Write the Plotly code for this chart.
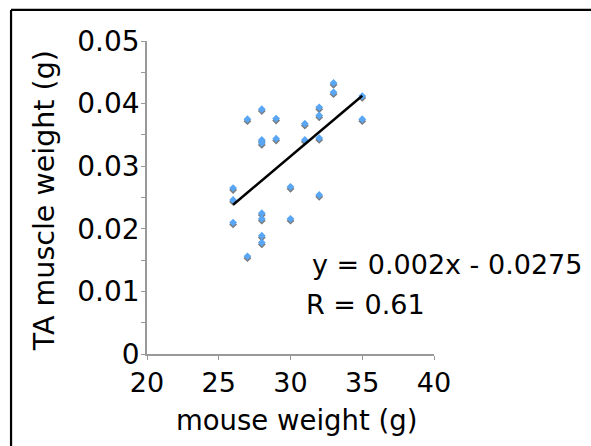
import numpy as np
import plotly.graph_objects as go

# mouse weight (g)
mouse_weight = [26, 26, 26,
                27, 27,
                28, 28, 28, 28, 28, 28, 28,
                29, 29,
                30, 30,
                31, 31,
                32, 32, 32, 32,
                33, 33,
                35, 35]
# TA muscle weight (g)
ta_weight = [0.0265, 0.0246, 0.0210,
             0.0375, 0.0156,
             0.0391, 0.0342, 0.0337, 0.0225, 0.0216, 0.0189, 0.0178,
             0.0376, 0.0344,
             0.0267, 0.0216,
             0.0368, 0.0342,
             0.0394, 0.0381, 0.0345, 0.0254,
             0.0433, 0.0418,
             0.0412, 0.0375]

x_ticks = [20, 25, 30, 35, 40]
y_ticks = [0, 0.01, 0.02, 0.03, 0.04, 0.05]
y_tick_labels = ["0", "0.01", "0.02", "0.03", "0.04", "0.05"]

equation_text = "y = 0.002x - 0.0275"
r_text = "R = 0.61"

x = np.array(mouse_weight, dtype=float)
y = np.array(ta_weight, dtype=float)
slope, intercept = np.polyfit(x, y, 1)
x_fit = np.array([x.min(), x.max()])
y_fit = slope * x_fit + intercept

FONT = "DejaVu Sans"
shadow_dy = 0.0003  # small drop shadow under markers

fig = go.Figure()
fig.add_trace(go.Scatter(
    x=x, y=y - shadow_dy, mode="markers",
    marker=dict(symbol="diamond", size=6, color="#7a7a7a"),
    hoverinfo="skip", showlegend=False))
fig.add_trace(go.Scatter(
    x=x, y=y, mode="markers",
    marker=dict(symbol="diamond", size=6, color="#58A6F4"),
    showlegend=False))
fig.add_trace(go.Scatter(
    x=x_fit, y=y_fit, mode="lines",
    line=dict(color="black", width=2.5),
    showlegend=False))

axis_col = "#999999"
fig.update_xaxes(
    range=[20, 40], tickvals=x_ticks, ticktext=[str(v) for v in x_ticks],
    showgrid=False, zeroline=False, showline=True, linecolor=axis_col, linewidth=1.5,
    ticks="outside", ticklen=4, tickcolor=axis_col, tickwidth=1,
    tickfont=dict(family=FONT, size=27, color="black"))
fig.update_yaxes(
    range=[0, 0.05], tickvals=y_ticks, ticktext=y_tick_labels,
    showgrid=False, zeroline=False, showline=True, linecolor=axis_col, linewidth=1.5,
    ticks="outside", ticklen=4, tickcolor=axis_col, tickwidth=1,
    minor=dict(dtick=0.005, ticks="outside", ticklen=4, tickcolor=axis_col, tickwidth=1, showgrid=False),
    ticklabelstandoff=-4,
    tickfont=dict(family=FONT, size=28, color="black"))

ann_font = dict(family=FONT, size=27, color="black")
fig.add_annotation(text=equation_text, xref="paper", yref="paper", x=0.568, y=0.287,
                   xanchor="left", yanchor="middle", showarrow=False, font=ann_font)
fig.add_annotation(text=r_text, xref="paper", yref="paper", x=0.547, y=0.159,
                   xanchor="left", yanchor="middle", showarrow=False, font=ann_font)
fig.add_annotation(text="mouse weight (g)", xref="paper", yref="paper", x=0.522, y=-0.212,
                   xanchor="center", yanchor="middle", showarrow=False,
                   font=dict(family=FONT, size=27.5, color="black"))
fig.add_annotation(text="TA muscle weight (g)", xref="paper", yref="paper", x=-0.357, y=0.49,
                   xanchor="center", yanchor="middle", showarrow=False, textangle=-90,
                   font=dict(family=FONT, size=28.5, color="black"))

# outer frame: only top and left edges are visible in the source crop
frame = dict(color="black", width=2.2)
fig.add_shape(type="line", xref="paper", yref="paper",
              x0=-0.4737, x1=2.5, y0=1.0994, y1=1.0994, line=frame)
fig.add_shape(type="line", xref="paper", yref="paper",
              x0=-0.4737, x1=-0.4737, y0=-0.8, y1=1.0994, line=frame)

fig.update_layout(
    width=591, height=446,
    margin=dict(l=147, r=157, t=41, b=92),
    paper_bgcolor="white", plot_bgcolor="white",
    font=dict(family=FONT, color="black"),
    showlegend=False)

fig.write_html(
    "out.html",
    config={"displayModeBar": False},
    post_script="document.body.style.margin='0';document.body.style.overflow='hidden';")
